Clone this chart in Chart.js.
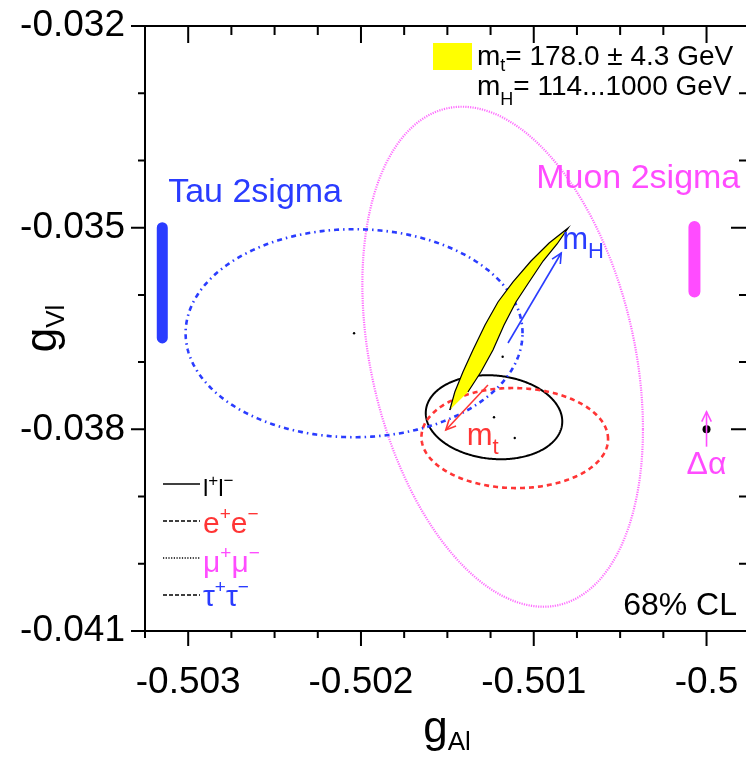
<!DOCTYPE html>
<html>
<head>
<meta charset="utf-8">
<script src="https://cdn.jsdelivr.net/npm/chart.js@4/dist/chart.umd.min.js"></script>
<style>
  html, body { margin: 0; padding: 0; background: #fff; overflow: hidden; }
  canvas { display: block; }
</style>
</head>
<body>
<canvas id="chart" width="752" height="757"></canvas>
<script>
// ---- axes ----
const xRange = [-0.50325, -0.49976];
const yRange = [-0.041, -0.032];
const xTickValues = [-0.503, -0.502, -0.501, -0.5];
const xTickLabels = ['-0.503', '-0.502', '-0.501', '-0.5'];
const yTickValues = [-0.041, -0.038, -0.035, -0.032];
const yTickLabels = ['-0.041', '-0.038', '-0.035', '-0.032'];
const xMinorStep = 0.00025;
const yMinorStep = 0.001;

// ---- 68% CL contours (centre, half extent in x and y, correlation) ----
const contourNames   = ['l+l-', 'e+e-', 'mu+mu-', 'tau+tau-'];
const contourCentreX = [-0.50123, -0.50111, -0.50118, -0.50204];
const contourCentreY = [-0.03782, -0.03813, -0.03692, -0.03657];
const contourHalfX   = [0.000395, 0.000540, 0.000812, 0.000975];
const contourHalfY   = [0.000625, 0.000744, 0.003719, 0.001547];
const contourRho     = [-0.10, -0.02, -0.29, 0.0];

// ---- SM prediction band (mt = 178.0 +- 4.3 GeV, mH = 114...1000 GeV) ----
const bandEdgeX = [-0.501486, -0.501457, -0.501410, -0.501352, -0.501282, -0.501207, -0.501120, -0.501016, -0.500911, -0.500801,
                   -0.500865, -0.500946, -0.501027, -0.501103, -0.501172, -0.501236, -0.501306, -0.501381];
const bandEdgeY = [-0.037712, -0.037445, -0.037147, -0.036820, -0.036448, -0.036106, -0.035808, -0.035496, -0.035228, -0.035005,
                   -0.035243, -0.035496, -0.035808, -0.036106, -0.036448, -0.036820, -0.037147, -0.037445];
// lines of constant mt inside the band
const bandLineAX = [-0.501486, -0.501432, -0.501375, -0.501313, -0.501245, -0.501172, -0.501088, -0.500990, -0.500895, -0.500801];
const bandLineAY = [-0.037712, -0.037445, -0.037147, -0.036820, -0.036448, -0.036106, -0.035808, -0.035496, -0.035234, -0.035005];
const bandLineBX = [-0.501486, -0.501412, -0.501342, -0.501275, -0.501207, -0.501138, -0.501060, -0.500972, -0.500882, -0.500801];
const bandLineBY = [-0.037712, -0.037445, -0.037147, -0.036820, -0.036448, -0.036106, -0.035808, -0.035496, -0.035238, -0.035005];

// ---- 2 sigma ranges from tau polarisation and muon measurement ----
const tauBarX = [-0.50315, -0.50315];
const tauBarY = [-0.03500, -0.03664];
const muonBarX = [-0.50007, -0.50007];
const muonBarY = [-0.03499, -0.03595];

// ---- arrows: mH, mt, delta alpha ----
const arrowNames = ['mH', 'mt', 'dalpha'];
const arrowFromX = [-0.501149, -0.501265, -0.500000];
const arrowFromY = [-0.036716, -0.037340, -0.038258];
const arrowToX   = [-0.500841, -0.501509, -0.500000];
const arrowToY   = [-0.035377, -0.038010, -0.037738];

// delta alpha reference point
const alphaPointX = [-0.5];
const alphaPointY = [-0.038];

const FONT = '"Liberation Sans", Arial, Helvetica, sans-serif';
const BLUE = '#2a3cff';
const MAGENTA = '#ff4cff';
const RED = '#ff3535';

function pts(xs, ys) { return xs.map((x, i) => ({ x: x, y: ys[i] })); }

// rich text: array of [text, size, dy, color]
function richWidth(ctx, parts) {
  let w = 0;
  for (const p of parts) { ctx.font = p[1] + 'px ' + FONT; w += ctx.measureText(p[0]).width; }
  return w;
}
function drawRich(ctx, x, y, parts, align) {
  const w = richWidth(ctx, parts);
  let cx = align === 'right' ? x - w : (align === 'center' ? x - w / 2 : x);
  ctx.textBaseline = 'alphabetic';
  ctx.textAlign = 'left';
  for (const p of parts) {
    ctx.font = p[1] + 'px ' + FONT;
    ctx.fillStyle = p[3] || '#000';
    ctx.fillText(p[0], cx, y + (p[2] || 0));
    cx += ctx.measureText(p[0]).width;
  }
}

function drawArrowHead(ctx, x0, y0, x1, y1, len, spread) {
  const a = Math.atan2(y1 - y0, x1 - x0);
  ctx.beginPath();
  ctx.moveTo(x1 - len * Math.cos(a - spread), y1 - len * Math.sin(a - spread));
  ctx.lineTo(x1, y1);
  ctx.lineTo(x1 - len * Math.cos(a + spread), y1 - len * Math.sin(a + spread));
  ctx.stroke();
}

const contourStyles = [
  { color: '#000000', width: 2.0, dash: [] },
  { color: RED,       width: 2.6, dash: [5, 4] },
  { color: '#ff6cff', width: 2.2, dash: [1.2, 1.2] },
  { color: BLUE,      width: 2.6, dash: [5, 4, 1.5, 4] }
];

const contourPlugin = {
  id: 'contours',
  beforeDatasetsDraw(chart) {
    const ctx = chart.ctx, xs = chart.scales.x, ys = chart.scales.y;
    const area = chart.chartArea;
    ctx.save();
    ctx.beginPath();
    ctx.rect(area.left, area.top, area.right - area.left, area.bottom - area.top);
    ctx.clip();
    for (let k = 0; k < contourNames.length; k++) {
      const st = contourStyles[k];
      const n = 360;
      ctx.beginPath();
      for (let i = 0; i <= n; i++) {
        const t = 2 * Math.PI * i / n;
        const dx = contourHalfX[k] * Math.cos(t);
        const dy = contourHalfY[k] * (contourRho[k] * Math.cos(t) + Math.sqrt(1 - contourRho[k] * contourRho[k]) * Math.sin(t));
        const px = xs.getPixelForValue(contourCentreX[k] + dx);
        const py = ys.getPixelForValue(contourCentreY[k] + dy);
        if (i === 0) ctx.moveTo(px, py); else ctx.lineTo(px, py);
      }
      ctx.closePath();
      ctx.setLineDash(st.dash);
      ctx.lineWidth = st.width;
      ctx.strokeStyle = st.color;
      ctx.stroke();
    }
    ctx.restore();
  }
};

const framePlugin = {
  id: 'frame',
  afterDraw(chart) {
    const ctx = chart.ctx, xs = chart.scales.x, ys = chart.scales.y;
    const a = chart.chartArea;
    ctx.save();
    ctx.strokeStyle = '#000';
    ctx.lineWidth = 2;
    ctx.setLineDash([]);
    // frame
    ctx.beginPath();
    ctx.moveTo(a.left, a.top); ctx.lineTo(a.right, a.top);
    ctx.moveTo(a.left, a.top); ctx.lineTo(a.left, a.bottom);
    ctx.moveTo(a.left, a.bottom); ctx.lineTo(a.right, a.bottom);
    ctx.moveTo(a.right, a.top); ctx.lineTo(a.right, a.bottom);
    ctx.stroke();
    // x ticks: outward on bottom, inward on top
    const k0 = Math.ceil(xRange[0] / xMinorStep - 1e-6), k1 = Math.floor(xRange[1] / xMinorStep + 1e-6);
    ctx.beginPath();
    for (let k = k0; k <= k1; k++) {
      const v = k * xMinorStep;
      const major = Math.abs(v / 0.001 - Math.round(v / 0.001)) < 1e-6;
      const px = xs.getPixelForValue(v);
      ctx.moveTo(px, a.bottom); ctx.lineTo(px, a.bottom + (major ? 15 : 7));
      ctx.moveTo(px, a.top); ctx.lineTo(px, a.top + (major ? 17 : 9));
    }
    // y ticks: outward on left, inward on right
    const j0 = Math.ceil(yRange[0] / yMinorStep - 1e-6), j1 = Math.floor(yRange[1] / yMinorStep + 1e-6);
    for (let j = j0; j <= j1; j++) {
      const v = j * yMinorStep;
      const major = yTickValues.some(t => Math.abs(t - v) < 1e-9);
      const py = ys.getPixelForValue(v);
      ctx.moveTo(a.left, py); ctx.lineTo(a.left - (major ? 14 : 7), py);
      ctx.moveTo(a.right, py); ctx.lineTo(a.right - (major ? 17 : 9), py);
    }
    ctx.stroke();

    // axis titles
    drawRich(ctx, 447, 742, [['g', 44, 0], ['Al', 26, 8]], 'center');
    ctx.save();
    ctx.translate(56, (a.top + a.bottom) / 2);
    ctx.rotate(-Math.PI / 2);
    drawRich(ctx, 0, 0, [['g', 44, 0], ['Vl', 26, 8]], 'center');
    ctx.restore();

    // arrows
    const arrowColors = [BLUE, RED, MAGENTA];
    for (let i = 0; i < arrowNames.length; i++) {
      const x0 = xs.getPixelForValue(arrowFromX[i]), y0 = ys.getPixelForValue(arrowFromY[i]);
      const x1 = xs.getPixelForValue(arrowToX[i]), y1 = ys.getPixelForValue(arrowToY[i]);
      ctx.strokeStyle = arrowColors[i];
      ctx.lineWidth = 1.6;
      ctx.beginPath(); ctx.moveTo(x0, y0); ctx.lineTo(x1, y1); ctx.stroke();
      drawArrowHead(ctx, x0, y0, x1, y1, 11, 0.45);
    }

    // labels near marks
    const L = (x, y) => [xs.getPixelForValue(x), ys.getPixelForValue(y)];
    let p = L(-0.503116, -0.034614);
    drawRich(ctx, p[0], p[1], [['Tau 2sigma', 34, 0, BLUE]]);
    p = L(-0.500986, -0.034414);
    drawRich(ctx, p[0], p[1], [['Muon 2sigma', 34, 0, MAGENTA]]);
    p = L(-0.500835, -0.035320);
    drawRich(ctx, p[0], p[1], [['m', 31, 0, BLUE], ['H', 22, 9, BLUE]]);
    p = L(-0.501388, -0.038240);
    drawRich(ctx, p[0], p[1], [['m', 31, 0, RED], ['t', 22, 9, RED]]);
    p = L(-0.5, -0.038660);
    drawRich(ctx, p[0], p[1], [['Δα', 32, 0, MAGENTA]], 'center');

    // mass ranges legend (top right)
    ctx.fillStyle = '#ffff00';
    ctx.fillRect(433, 43, 39, 27);
    drawRich(ctx, 477, 65, [['m', 28, 0], ['t', 18, 6], ['= 178.0 ± 4.3 GeV', 28, 0]]);
    drawRich(ctx, 477, 95, [['m', 28, 0], ['H', 18, 10], ['= 114...1000 GeV', 28, 0]]);

    // confidence level
    drawRich(ctx, 737, 615, [['68% CL', 32, 0]], 'right');

    // line-style legend (bottom left)
    const legendLines = [
      { y: 484, dash: [], parts: [['l', 24, 0, '#000'], ['+', 17, -10, '#000'], ['l', 24, 0, '#000'], ['−', 17, -10, '#000']] },
      { y: 521, dash: [4, 2], parts: [['e', 30, 0, RED], ['+', 19, -13, RED], ['e', 30, 0, RED], ['−', 19, -13, RED]] },
      { y: 558, dash: [1.2, 1.5], parts: [['μ', 30, 0, MAGENTA], ['+', 19, -13, MAGENTA], ['μ', 30, 0, MAGENTA], ['−', 19, -13, MAGENTA]] },
      { y: 595, dash: [4, 2], parts: [['τ', 30, 0, BLUE], ['+', 19, -13, BLUE], ['τ', 30, 0, BLUE], ['−', 19, -13, BLUE]] }
    ];
    const textBase = [496, 533, 572, 606];
    legendLines.forEach((e, i) => {
      ctx.strokeStyle = '#000';
      ctx.lineWidth = 1.5;
      ctx.setLineDash(e.dash);
      ctx.beginPath(); ctx.moveTo(163, e.y); ctx.lineTo(200, e.y); ctx.stroke();
      ctx.setLineDash([]);
      drawRich(ctx, 203, textBase[i], e.parts);
    });
    ctx.restore();
  }
};

const chart = new Chart(document.getElementById('chart'), {
  type: 'scatter',
  data: {
    datasets: [
      { label: 'band', data: pts(bandEdgeX, bandEdgeY), showLine: true, fill: 'shape',
        backgroundColor: '#ffff00', borderColor: '#000', borderWidth: 1.2, pointRadius: 0, tension: 0 },
      { label: 'band-a', data: pts(bandLineAX, bandLineAY), showLine: true, fill: false,
        borderColor: '#000', borderWidth: 0.9, pointRadius: 0 },
      { label: 'band-b', data: pts(bandLineBX, bandLineBY), showLine: true, fill: false,
        borderColor: '#000', borderWidth: 0.9, pointRadius: 0 },
      { label: 'tau', data: pts(tauBarX, tauBarY), showLine: true, borderColor: BLUE, borderWidth: 11,
        borderCapStyle: 'round', pointRadius: 0 },
      { label: 'muon', data: pts(muonBarX, muonBarY), showLine: true, borderColor: MAGENTA, borderWidth: 12,
        borderCapStyle: 'round', pointRadius: 0 },
      { label: 'centres', data: pts(contourCentreX, contourCentreY), pointRadius: 1.2,
        backgroundColor: '#000', borderWidth: 0 },
      { label: 'alpha', data: pts(alphaPointX, alphaPointY), pointRadius: 4,
        backgroundColor: '#000', borderWidth: 0 }
    ]
  },
  options: {
    responsive: false,
    animation: false,
    events: [],
    layout: { padding: { top: 26, right: 0, left: 0, bottom: 0 } },
    plugins: { legend: { display: false }, tooltip: { enabled: false } },
    scales: {
      x: {
        type: 'linear', position: 'bottom', min: xRange[0], max: xRange[1],
        grid: { display: false, drawTicks: false }, border: { display: false },
        afterBuildTicks: s => { s.ticks = xTickValues.map(v => ({ value: v })); },
        afterFit: s => { s.height = 757 - 631; s.paddingLeft = 0; s.paddingRight = 0; },
        ticks: {
          autoSkip: false, maxRotation: 0, padding: 30,
          font: { family: FONT, size: 37 }, color: '#000',
          callback: (v) => { const i = xTickValues.findIndex(t => Math.abs(t - v) < 1e-9); return i >= 0 ? xTickLabels[i] : ''; }
        }
      },
      y: {
        type: 'linear', position: 'left', min: yRange[0], max: yRange[1],
        grid: { display: false, drawTicks: false }, border: { display: false },
        afterBuildTicks: s => { s.ticks = yTickValues.map(v => ({ value: v })); },
        afterFit: s => { s.width = 145; s.paddingTop = 0; s.paddingBottom = 0; },
        ticks: {
          autoSkip: false, padding: 20,
          font: { family: FONT, size: 37 }, color: '#000',
          callback: (v) => { const i = yTickValues.findIndex(t => Math.abs(t - v) < 1e-9); return i >= 0 ? yTickLabels[i] : ''; }
        }
      }
    }
  },
  plugins: [contourPlugin, framePlugin]
});
</script>
</body>
</html>
